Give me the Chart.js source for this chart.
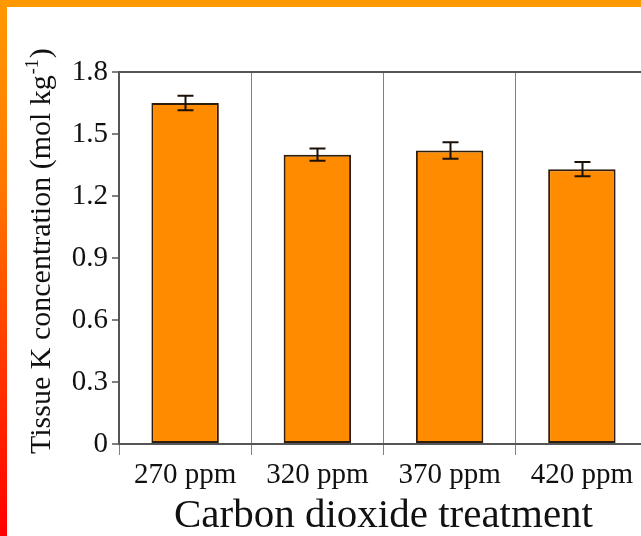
<!DOCTYPE html>
<html>
<head>
<meta charset="utf-8">
<script src="https://cdn.jsdelivr.net/npm/chart.js@4"></script>
<style>
    body { margin: 0; background: #fff; overflow: hidden; }
    #wrap { position: absolute; left: 0; top: 0; width: 660px; height: 536px; }
    #topband { position: absolute; left: 0; top: 0; width: 641px; height: 7px; background: #ff9900; }
    #leftband { position: absolute; left: 0; top: 0; width: 7px; height: 536px;
        background: linear-gradient(#ff9900 0%, #ff7700 35%, #ff3300 70%, #ff0000 100%); }
</style>
</head>
<body>
<div id="wrap"><canvas id="kChart" width="660" height="536"></canvas></div>
<div id="topband"></div>
<div id="leftband"></div>
<script>
const treatments = ["270 ppm", "320 ppm", "370 ppm", "420 ppm"]
const tissueK = [1.65, 1.40, 1.42, 1.33]
const tissueKErr = [0.035, 0.03, 0.04, 0.035]
const yTicks = [0, 0.3, 0.6, 0.9, 1.2, 1.5, 1.8]
const yTitleParts = ["Tissue K concentration (mol kg", "-1", ")"]

const axisGrey = "#555555"
const serif = "'Liberation Serif', 'Times New Roman', serif"

// whiskers with caps on top of each bar
const errorBars = {
    id: "errorBars",
    afterDatasetsDraw(chart){
        let ctx = chart.ctx
        let yScale = chart.scales.y
        let meta = chart.getDatasetMeta(0)
        ctx.save()
        ctx.strokeStyle = "#1a1008"
        ctx.lineWidth = 2
        meta.data.forEach((bar, i) => {
            let hi = yScale.getPixelForValue(tissueK[i] + tissueKErr[i])
            let lo = yScale.getPixelForValue(tissueK[i] - tissueKErr[i])
            let x = Math.round(bar.x) + 0.5
            ctx.beginPath()
            ctx.moveTo(x, hi); ctx.lineTo(x, lo)
            ctx.moveTo(x - 8, hi); ctx.lineTo(x + 8, hi)
            ctx.moveTo(x - 8, lo); ctx.lineTo(x + 8, lo)
            ctx.stroke()
        })
        ctx.restore()
    }
}

// rotated y title, drawn by hand so the unit exponent can be raised
const yTitle = {
    id: "yTitle",
    afterDraw(chart){
        let ctx = chart.ctx
        ctx.save()
        ctx.translate(50, 454)
        ctx.rotate(-Math.PI / 2)
        ctx.fillStyle = "#111"
        ctx.textBaseline = "alphabetic"
        ctx.textAlign = "left"
        ctx.font = "30px " + serif
        ctx.fillText(yTitleParts[0], 0, 0)
        let x = ctx.measureText(yTitleParts[0]).width + 1
        ctx.font = "18px " + serif
        ctx.fillText(yTitleParts[1], x, -12)
        x += ctx.measureText(yTitleParts[1]).width + 1
        ctx.font = "30px " + serif
        ctx.fillText(yTitleParts[2], x, 0)
        ctx.restore()
    }
}

let chart = new Chart(document.getElementById("kChart"), {
    type: "bar",
    data: {
        labels: treatments,
        datasets: [{
            data: tissueK,
            backgroundColor: "#ff8c00",
            borderColor: "#2e1c0c",
            borderWidth: 2,
            borderSkipped: false,
            barPercentage: 0.51,
            categoryPercentage: 1.0
        }]
    },
    options: {
        responsive: false,
        animation: false,
        layout: { padding: { left: 0, right: 12, top: 72, bottom: 0 } },
        plugins: {
            legend: { display: false },
            tooltip: { enabled: false }
        },
        scales: {
            x: {
                grid: {
                    offset: true,
                    color: "#808080",
                    lineWidth: 1,
                    tickLength: 11,
                    tickColor: "#808080"
                },
                border: { display: true, color: axisGrey, width: 2 },
                ticks: {
                    color: "#111",
                    padding: 3,
                    font: { family: serif, size: 29 }
                },
                title: {
                    display: true,
                    text: "Carbon dioxide treatment",
                    color: "#111",
                    padding: 0,
                    font: { family: serif, size: 41, lineHeight: 0.95 }
                },
                afterFit(scale){ scale.height = 92 }
            },
            y: {
                min: 0,
                max: 1.8,
                afterBuildTicks(scale){ scale.ticks = yTicks.map(v => ({value: v})) },
                grid: {
                    color: (c) => (c.tick && c.tick.value === 1.8) ? axisGrey : "rgba(0,0,0,0)",
                    lineWidth: 2,
                    tickLength: 7,
                    tickColor: axisGrey,
                    tickWidth: 1.5
                },
                border: { display: true, color: axisGrey, width: 2 },
                ticks: {
                    color: "#111",
                    padding: 4,
                    font: { family: serif, size: 29 },
                    callback: (v) => v === 0 ? "0" : v.toFixed(1)
                },
                afterFit(scale){ scale.width = 119 }
            }
        }
    },
    plugins: [errorBars, yTitle]
})
</script>
</body>
</html>
